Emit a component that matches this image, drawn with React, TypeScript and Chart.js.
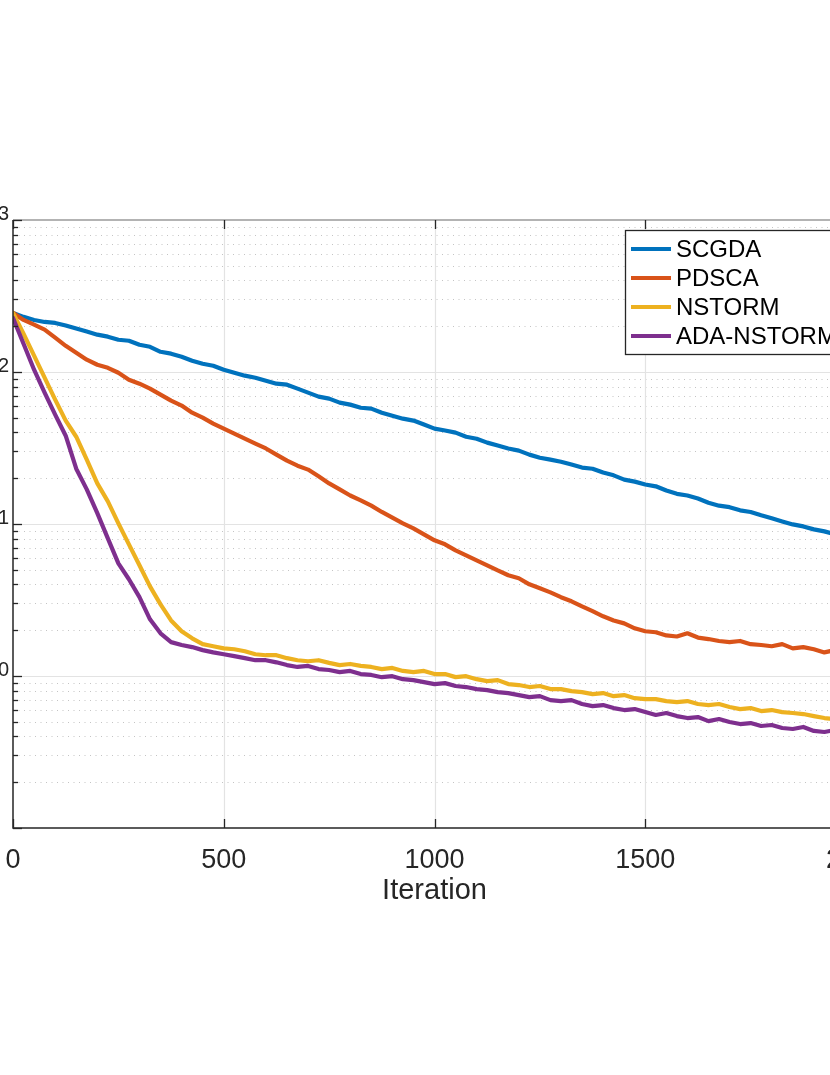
import { useEffect, useRef } from "react";
import { Chart, registerables } from "chart.js";

Chart.register(...registerables);

// iteration index of each sample
const iterations = [
  0, 25, 50, 75, 100, 125, 150, 175, 200, 225, 250, 275, 300, 325, 350, 375, 400, 425, 450, 475,
  500, 525, 550, 575, 600, 625, 650, 675, 700, 725, 750, 775, 800, 825, 850, 875, 900, 925, 950, 975,
  1000, 1025, 1050, 1075, 1100, 1125, 1150, 1175, 1200, 1225, 1250, 1275, 1300, 1325, 1350, 1375, 1400, 1425, 1450, 1475,
  1500, 1525, 1550, 1575, 1600, 1625, 1650, 1675, 1700, 1725, 1750, 1775, 1800, 1825, 1850, 1875, 1900, 1925, 1950, 1975,
  2000,
];

const scgda = [
  245, 230.6, 220, 213.4, 210.2, 202, 193, 184.4, 176, 170.8, 163, 160.5, 151, 146.5, 135.8, 132, 126.1, 118.7, 113.3, 109.9,
  103.5, 98.9, 94.6, 91.7, 87.7, 83.8, 82.5, 77.7, 73.2, 68.9, 66.8, 62.9, 61, 58.2, 57.4, 54.0, 51.6, 49.3, 47.9, 45.1,
  42.4, 41.2, 39.9, 37.5, 36.4, 34.3, 32.8, 31.4, 30.4, 28.6, 27.3, 26.5, 25.7, 24.6, 23.5, 23.1, 21.8, 20.9, 19.6, 19.0,
  18.2, 17.7, 16.6, 15.8, 15.4, 14.7, 13.8, 13.2, 12.9, 12.3, 12.0, 11.4, 10.9, 10.4, 9.94, 9.64, 9.22, 8.94, 8.55, 8.29,
  7.93,
];

const pdsca = [
  245, 220, 205, 190, 168.2, 148.7, 133.8, 120.5, 111.6, 106.6, 98.9, 89, 83.8, 77.7, 71, 64.8, 60.1, 54.0, 50.1, 45.8,
  42.4, 39.3, 36.4, 33.8, 31.4, 28.6, 26.1, 24.2, 22.8, 20.6, 18.5, 16.9, 15.4, 14.3, 13.2, 12.0, 11.0, 10.1, 9.36, 8.55,
  7.81, 7.35, 6.71, 6.22, 5.77, 5.35, 4.95, 4.6, 4.4, 4.01, 3.78, 3.55, 3.3, 3.1, 2.87, 2.67, 2.47, 2.32, 2.22, 2.06,
  1.97, 1.94, 1.85, 1.82, 1.91, 1.79, 1.75, 1.7, 1.67, 1.7, 1.62, 1.6, 1.57, 1.62, 1.52, 1.55, 1.5, 1.43, 1.48, 1.52,
  1.5,
];

const nstorm = [
  245, 178.7, 128.1, 91.7, 65.8, 47.9, 37.5, 26.5, 18.5, 14.1, 10.1, 7.35, 5.35, 3.89, 2.96, 2.32, 1.97, 1.77, 1.62, 1.57,
  1.52, 1.5, 1.455, 1.39, 1.37, 1.37, 1.31, 1.27, 1.25, 1.27, 1.22, 1.18, 1.2, 1.165, 1.147, 1.11, 1.13, 1.08, 1.06, 1.08,
  1.03, 1.03, 0.983, 0.997, 0.953, 0.925, 0.939, 0.885, 0.872, 0.846, 0.859, 0.82, 0.82, 0.796, 0.784, 0.76, 0.772, 0.737, 0.749, 0.715,
  0.705, 0.705, 0.684, 0.674, 0.684, 0.654, 0.644, 0.654, 0.625, 0.606, 0.615, 0.588, 0.597, 0.579, 0.571, 0.562, 0.545, 0.529, 0.521, 0.513,
  0.505,
];

const adaNstorm = [
  226.8, 153.3, 103.5, 73.1, 52.4, 38.1, 23.1, 16.9, 11.8, 8.05, 5.51, 4.33, 3.3, 2.36, 1.91, 1.67, 1.6, 1.55, 1.48, 1.43,
  1.39, 1.35, 1.31, 1.27, 1.27, 1.23, 1.18, 1.147, 1.165, 1.11, 1.095, 1.06, 1.08, 1.03, 1.016, 0.982, 0.997, 0.953, 0.939, 0.911,
  0.885, 0.898, 0.859, 0.846, 0.82, 0.808, 0.784, 0.772, 0.749, 0.726, 0.737, 0.694, 0.684, 0.694, 0.654, 0.634, 0.644, 0.615, 0.597, 0.606,
  0.579, 0.554, 0.571, 0.545, 0.529, 0.537, 0.505, 0.521, 0.498, 0.483, 0.49, 0.469, 0.476, 0.455, 0.448, 0.462, 0.435, 0.428, 0.441, 0.421,
  0.415,
];

const seriesNames = ["SCGDA", "PDSCA", "NSTORM", "ADA-NSTORM"];
const seriesValues = [scgda, pdsca, nstorm, adaNstorm];
const seriesColors = ["#0072BD", "#D95319", "#EDB120", "#7E2F8E"];

const xTicks = [0, 500, 1000, 1500, 2000];
const yDecades = [0.1, 1, 10, 100, 1000];
const yMinorSteps = [2, 3, 4, 5, 6, 7, 8, 9];
const yLabelDecades = [1000, 100, 10, 1];
const yLabelExponents = ["3", "2", "1", "0"];

const FONT = "'Liberation Sans', Arial, Helvetica, sans-serif";
const AXIS_COLOR = "#262626";
const CANVAS_W = 943;
const CANVAS_H = 1075;

const matlabLook = {
  id: "matlabLook",
  beforeDatasetsDraw(chart: any) {
    const { ctx, chartArea: a, scales } = chart;
    const xs = scales.x;
    const ys = scales.y;
    ctx.save();
    // dotted minor grid
    ctx.lineWidth = 1;
    ctx.strokeStyle = "#c4c4c4";
    ctx.setLineDash([1, 4.5]);
    for (const d of yDecades) {
      for (const m of yMinorSteps) {
        const v = d * m;
        if (v >= 1000) continue;
        const py = Math.round(ys.getPixelForValue(v)) + 0.5;
        ctx.beginPath();
        ctx.moveTo(a.left, py);
        ctx.lineTo(a.right, py);
        ctx.stroke();
      }
    }
    // solid major grid
    ctx.setLineDash([]);
    ctx.strokeStyle = "#e3e3e3";
    ctx.lineWidth = 1.2;
    for (const d of yDecades) {
      if (d <= 0.1 || d >= 1000) continue;
      const py = Math.round(ys.getPixelForValue(d)) + 0.5;
      ctx.beginPath();
      ctx.moveTo(a.left, py);
      ctx.lineTo(a.right, py);
      ctx.stroke();
    }
    for (const t of xTicks) {
      if (t <= 0 || t >= 2000) continue;
      const px = Math.round(xs.getPixelForValue(t)) + 0.5;
      ctx.beginPath();
      ctx.moveTo(px, a.top);
      ctx.lineTo(px, a.bottom);
      ctx.stroke();
    }
    ctx.restore();
  },
  afterDatasetsDraw(chart: any) {
    const { ctx, chartArea: a, scales } = chart;
    const xs = scales.x;
    const ys = scales.y;
    ctx.save();

    // box
    ctx.lineWidth = 1.5;
    ctx.strokeStyle = "#9a9a9a";
    ctx.beginPath();
    ctx.moveTo(a.left, a.top);
    ctx.lineTo(a.right, a.top);
    ctx.lineTo(a.right, a.bottom);
    ctx.stroke();
    ctx.strokeStyle = AXIS_COLOR;
    ctx.beginPath();
    ctx.moveTo(a.left, a.top);
    ctx.lineTo(a.left, a.bottom);
    ctx.lineTo(a.right, a.bottom);
    ctx.stroke();

    // inward ticks
    ctx.lineWidth = 1.3;
    for (const d of yDecades) {
      const py = Math.round(ys.getPixelForValue(d)) + 0.5;
      ctx.beginPath();
      ctx.moveTo(a.left, py);
      ctx.lineTo(a.left + 9, py);
      ctx.stroke();
      for (const m of yMinorSteps) {
        const v = d * m;
        if (v >= 1000) continue;
        const pm = Math.round(ys.getPixelForValue(v)) + 0.5;
        ctx.beginPath();
        ctx.moveTo(a.left, pm);
        ctx.lineTo(a.left + 5, pm);
        ctx.stroke();
      }
    }
    for (const t of xTicks) {
      const px = Math.round(xs.getPixelForValue(t)) + 0.5;
      ctx.beginPath();
      ctx.moveTo(px, a.bottom);
      ctx.lineTo(px, a.bottom - 9);
      ctx.moveTo(px, a.top);
      ctx.lineTo(px, a.top + 9);
      ctx.stroke();
    }

    // y tick labels 10^k
    ctx.fillStyle = AXIS_COLOR;
    ctx.textAlign = "right";
    ctx.textBaseline = "alphabetic";
    yLabelDecades.forEach((d, i) => {
      const py = ys.getPixelForValue(d);
      const exp = yLabelExponents[i];
      ctx.font = `20px ${FONT}`;
      const ew = ctx.measureText(exp).width;
      const ex = a.left - 4;
      ctx.fillText(exp, ex, py);
      ctx.font = `27px ${FONT}`;
      ctx.fillText("10", ex - ew, py + 9);
    });

    // legend
    const lw = 221;
    const lh = 124;
    const lx = a.right - 231;
    const ly = a.top + 10;
    ctx.fillStyle = "#ffffff";
    ctx.fillRect(lx, ly, lw, lh);
    ctx.lineWidth = 1.3;
    ctx.strokeStyle = AXIS_COLOR;
    ctx.strokeRect(lx + 0.5, ly + 0.5, lw, lh);
    ctx.font = `24px ${FONT}`;
    ctx.textAlign = "left";
    ctx.textBaseline = "middle";
    chart.data.datasets.forEach((ds: any, i: number) => {
      const cy = ly + 19 + i * 29;
      ctx.strokeStyle = ds.borderColor;
      ctx.lineWidth = 4;
      ctx.beginPath();
      ctx.moveTo(lx + 6, cy);
      ctx.lineTo(lx + 46, cy);
      ctx.stroke();
      ctx.fillStyle = "#000000";
      ctx.fillText(ds.label, lx + 51, cy + 1);
    });

    ctx.restore();
  },
};

const App = () => {
  const canvasRef = useRef<HTMLCanvasElement>(null);

  useEffect(() => {
    if (!canvasRef.current) return;
    const chart = new Chart(canvasRef.current, {
      type: "line",
      data: {
        datasets: seriesNames.map((name, i) => ({
          label: name,
          data: iterations.map((it, j) => ({ x: it, y: seriesValues[i][j] })),
          borderColor: seriesColors[i],
          backgroundColor: seriesColors[i],
          borderWidth: 4.2,
          pointRadius: 0,
          tension: 0,
          fill: false,
          borderJoinStyle: "round" as const,
          borderCapStyle: "round" as const,
          order: seriesNames.length - i,
        })),
      },
      options: {
        animation: false,
        responsive: false,
        devicePixelRatio: 1,
        layout: { padding: { left: 60, right: 40, top: 220, bottom: 167 } },
        plugins: { legend: { display: false }, tooltip: { enabled: false } },
        scales: {
          x: {
            type: "linear",
            min: 0,
            max: 2000,
            afterBuildTicks: (s: any) => {
              s.ticks = xTicks.map((v) => ({ value: v }));
            },
            afterFit: (s: any) => {
              s.height = 80;
              s.paddingLeft = 0;
              s.paddingRight = 0;
            },
            ticks: {
              color: AXIS_COLOR,
              font: { family: FONT, size: 27 },
              padding: 16,
              maxRotation: 0,
              autoSkip: false,
              callback: (v: any) => String(v),
            },
            grid: { display: false, drawTicks: false },
            border: { display: false },
            title: {
              display: true,
              text: "Iteration",
              color: AXIS_COLOR,
              font: { family: FONT, size: 29 },
              padding: 0,
            },
          },
          y: {
            type: "logarithmic",
            min: 0.1,
            max: 1000,
            display: false,
          },
        },
      },
      plugins: [matlabLook],
    });
    return () => chart.destroy();
  }, []);

  return (
    <div
      style={{
        position: "fixed",
        left: 0,
        top: 0,
        width: 830,
        height: 1075,
        overflow: "hidden",
        background: "#ffffff",
      }}
    >
      <canvas
        ref={canvasRef}
        width={CANVAS_W}
        height={CANVAS_H}
        style={{ position: "absolute", left: -47, top: 0, width: CANVAS_W, height: CANVAS_H }}
      ></canvas>
    </div>
  );
};

export default App;
